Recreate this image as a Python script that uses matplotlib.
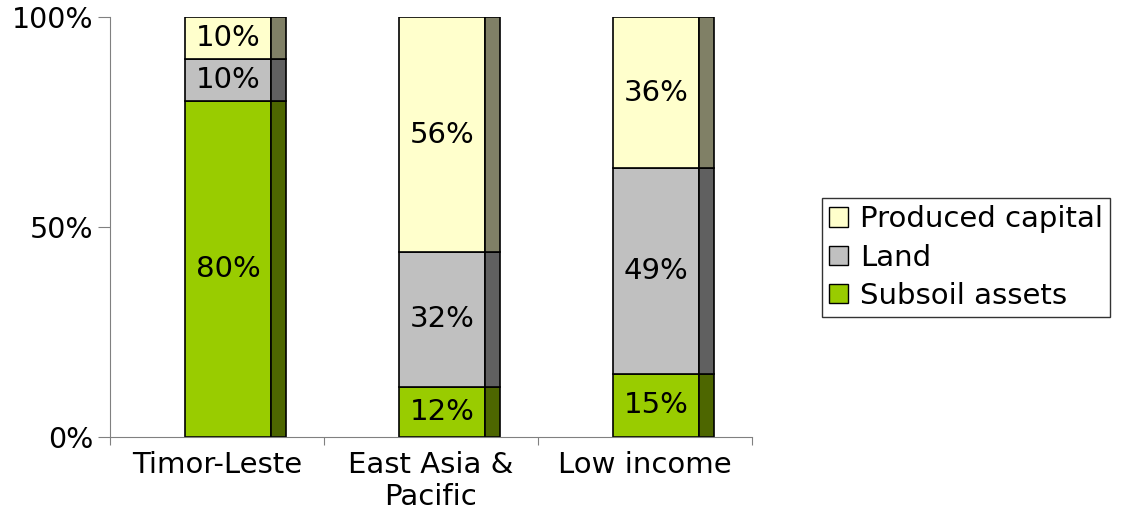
import matplotlib.pyplot as plt
from matplotlib.patches import Patch
import numpy as np

plt.rcParams['font.family'] = ['DejaVu Sans']

categories = ['Timor-Leste', 'East Asia &\nPacific', 'Low income']
subsoil = [80, 12, 15]
land = [10, 32, 49]
produced = [10, 56, 36]

series = [('Subsoil assets', subsoil, '#99cc00', '#4d6600'),
          ('Land', land, '#c0c0c0', '#606060'),
          ('Produced capital', produced, '#ffffcc', '#808066')]

fig = plt.figure(figsize=(11.33, 5.12), dpi=100)
ax = fig.add_axes([0.0971, 0.1465, 0.5666, 0.8203])

x = np.arange(len(categories))
front_w = 0.40
side_w = 0.07
off = 0.352

bottom = np.zeros(len(categories))
for name, vals, c, cs in series:
    vals = np.array(vals, dtype=float)
    ax.bar(x + off, vals, front_w, bottom=bottom, align='edge',
           color=c, edgecolor='black', linewidth=1.2)
    ax.bar(x + off + front_w, vals, side_w, bottom=bottom, align='edge',
           color=cs, edgecolor='black', linewidth=1.2)
    for xi, b, v in zip(x, bottom, vals):
        ax.text(xi + off + front_w / 2, b + v / 2, f'{int(v)}%',
                ha='center', va='center', fontsize=21)
    bottom += vals

ax.set_xlim(0, 3)
ax.set_ylim(0, 100)
ax.set_yticks([0, 50, 100])
ax.set_yticklabels(['0%', '50%', '100%'], fontsize=20.5)
ax.set_xticks([0, 1, 2, 3])
ax.set_xticklabels([])
ax.set_xticks(x + 0.5, minor=True)
ax.set_xticklabels(categories, minor=True, fontsize=21, linespacing=1.2)
ax.tick_params(axis='x', which='minor', length=0, pad=10)
ax.tick_params(axis='x', which='major', length=6, direction='out', color='#808080')
ax.tick_params(axis='y', length=9, direction='out', color='#808080', pad=3)
for s in ['top', 'right']:
    ax.spines[s].set_visible(False)
ax.spines['left'].set_color('#808080')
ax.spines['bottom'].set_color('#808080')

handles = [Patch(facecolor='#ffffcc', edgecolor='black', label='Produced capital'),
           Patch(facecolor='#c0c0c0', edgecolor='black', label='Land'),
           Patch(facecolor='#99cc00', edgecolor='black', label='Subsoil assets')]
leg = fig.legend(handles=handles, loc='center left', bbox_to_anchor=(0.7255, 0.497),
                 fontsize=21, frameon=True, fancybox=False, edgecolor='black',
                 handlelength=0.65, handleheight=0.65, handletextpad=0.4,
                 borderpad=0.25, labelspacing=0.35, borderaxespad=0)
leg.get_frame().set_linewidth(1)

fig.savefig('out.png', dpi=100)
